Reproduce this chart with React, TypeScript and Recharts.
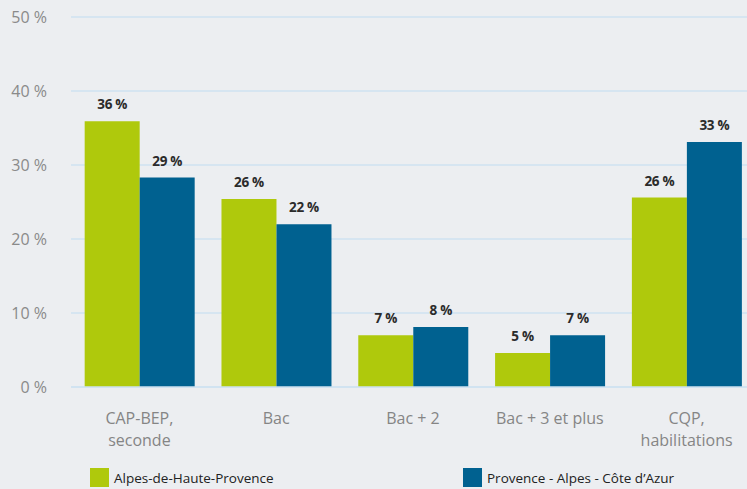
import { BarChart, Bar, XAxis, YAxis, CartesianGrid, LabelList } from "recharts";

const categories = ["CAP-BEP,\nseconde", "Bac", "Bac + 2", "Bac + 3 et plus", "CQP,\nhabilitations"];
const alpesValues = [35.9, 25.4, 7.0, 4.6, 25.6];
const pacaValues = [28.3, 22.0, 8.1, 7.0, 33.1];
const alpesLabels = ["36 %", "26 %", "7 %", "5 %", "26 %"];
const pacaLabels = ["29 %", "22 %", "8 %", "7 %", "33 %"];
const yTicks = [0, 10, 20, 30, 40, 50];

const series = [
  { key: "alpes", name: "Alpes-de-Haute-Provence", color: "#afc90c", labelKey: "alpesLabel" },
  { key: "paca", name: "Provence - Alpes - Côte d’Azur", color: "#006190", labelKey: "pacaLabel" },
];

const data = categories.map((c, i) => ({
  category: c,
  alpes: alpesValues[i],
  paca: pacaValues[i],
  alpesLabel: alpesLabels[i],
  pacaLabel: pacaLabels[i],
}));

const font = "'Open Sans', sans-serif";

function CategoryTick({ x, y, payload }: any) {
  const lines = String(payload.value).split("\n");
  return (
    <text x={x} y={y} textAnchor="middle" fill="#858585" fontSize={16} fontFamily={font}>
      {lines.map((l, i) => (
        <tspan key={i} x={x} dy={i === 0 ? 29 : 22}>
          {l}
        </tspan>
      ))}
    </text>
  );
}

export default function App() {
  return (
    <div style={{ position: "absolute", left: 0, top: 0, width: 747, height: 489, background: "#eceef1", overflow: "hidden", fontFamily: font }}>
      <BarChart
        width={760}
        height={489}
        data={data}
        margin={{ top: 17, right: 5, left: 0, bottom: 0 }}
        barCategoryGap="10%"
        barGap={0}
      >
        <CartesianGrid vertical={false} stroke="#cfe2f0" strokeWidth={1.5} />
        <YAxis
          width={71}
          domain={[0, 50]}
          ticks={yTicks}
          axisLine={false}
          tickLine={false}
          tickSize={0}
          tickMargin={24}
          tickFormatter={(v) => `${v} %`}
          tick={{ fill: "#8a8a8a", fontSize: 16, fontFamily: font }}
        />
        <XAxis
          dataKey="category"
          height={102}
          axisLine={{ stroke: "#cfe2f0", strokeWidth: 1.5 }}
          tickLine={false}
          tick={<CategoryTick />}
          interval={0}
        />
        {series.map((s) => (
          <Bar key={s.key} dataKey={s.key} name={s.name} fill={s.color} isAnimationActive={false}>
            <LabelList
              dataKey={s.labelKey}
              position="top"
              offset={12}
              fill="#2b2b2b"
              fontSize={13.5}
              fontWeight={700}
              fontFamily={font}
              letterSpacing={-0.3}
            />
          </Bar>
        ))}
      </BarChart>
      {series.map((s, i) => (
        <div
          key={s.key}
          style={{
            position: "absolute",
            top: 468,
            left: i === 0 ? 90 : 463,
            display: "flex",
            alignItems: "center",
            fontSize: 13.5,
            color: "#222",
            whiteSpace: "nowrap",
          }}
        >
          <span style={{ display: "inline-block", width: 19, height: 19, background: s.color, marginRight: 5 }} />
          {s.name}
        </div>
      ))}
    </div>
  );
}
